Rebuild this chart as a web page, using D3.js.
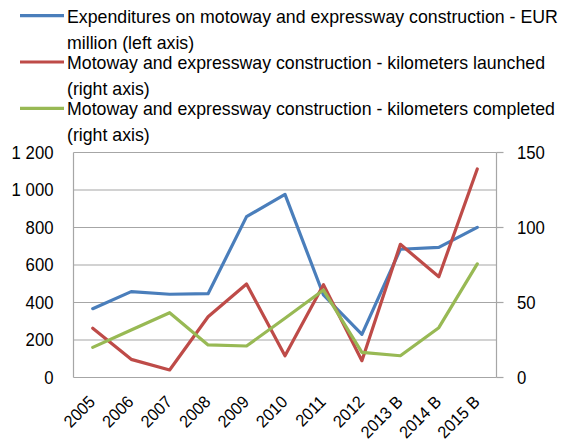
<!DOCTYPE html>
<html>
<head>
<script src="https://cdn.jsdelivr.net/npm/d3@7"></script>
<style>
  body { margin: 0; background: #fff; }
  svg text { font-family: "Liberation Sans", Arial, sans-serif; fill: #000; }
</style>
</head>
<body>
<svg id="chart"></svg>
<script>
// data
const years = ["2005", "2006", "2007", "2008", "2009", "2010", "2011", "2012", "2013 B", "2014 B", "2015 B"];
const expenditures = [367, 458, 444, 447, 858, 977, 440, 230, 684, 694, 801];   // EUR million, left axis
const kmLaunched = [32.8, 12.1, 5, 40.5, 62.3, 14.5, 61.9, 11.2, 88.8, 67.2, 139];  // right axis
const kmCompleted = [20.1, 31.7, 43.2, 21.7, 21, 39.5, 58.3, 16.8, 14.5, 33.2, 75.7]; // right axis
const leftTicks = [0, 200, 400, 600, 800, 1000, 1200];
const rightTicks = [0, 50, 100, 150];
const legendLines = [
    ["Expenditures on motoway and expressway construction - EUR", "million (left axis)"],
    ["Motoway and expressway construction - kilometers launched", "(right axis)"],
    ["Motoway and expressway construction - kilometers completed", "(right axis)"]
];
const colors = ["#4a7ebb", "#be4b48", "#98b954"];

const width = 567, height = 441;
const plot = { left: 73.5, right: 496.5, top: 152.5, bottom: 377.5 };

const svg = d3.select("#chart").attr("width", width).attr("height", height);

const x = d3.scaleBand().domain(years).range([plot.left, plot.right]);
const yL = d3.scaleLinear().domain([0, 1200]).range([plot.bottom, plot.top]);
const yR = d3.scaleLinear().domain([0, 150]).range([plot.bottom, plot.top]);

// gridlines
svg.append("g")
    .selectAll("line")
    .data(leftTicks)
    .enter()
    .append("line")
    .attr("x1", plot.left).attr("x2", plot.right)
    .attr("y1", d => yL(d)).attr("y2", d => yL(d))
    .attr("stroke", "#a6a6a6").attr("stroke-width", 1.2);

// axis lines
svg.append("line")
    .attr("x1", plot.left).attr("x2", plot.left)
    .attr("y1", plot.top).attr("y2", plot.bottom)
    .attr("stroke", "#a6a6a6").attr("stroke-width", 1.2);
svg.append("line")
    .attr("x1", plot.right).attr("x2", plot.right)
    .attr("y1", plot.top).attr("y2", plot.bottom)
    .attr("stroke", "#a6a6a6").attr("stroke-width", 1.2);

// right axis tick marks
svg.append("g")
    .selectAll("line")
    .data(rightTicks)
    .enter()
    .append("line")
    .attr("x1", plot.right).attr("x2", plot.right + 7)
    .attr("y1", d => yR(d)).attr("y2", d => yR(d))
    .attr("stroke", "#a6a6a6").attr("stroke-width", 1.2);

// left tick labels
svg.append("g")
    .selectAll("text")
    .data(leftTicks)
    .enter()
    .append("text")
    .attr("transform", d => `translate(53.5,${yL(d)}) scale(0.93,1)`)
    .attr("dy", "0.35em")
    .attr("text-anchor", "end")
    .style("font-size", "18px")
    .text(d => d3.format(",")(d).replace(",", " "));

// right tick labels
svg.append("g")
    .selectAll("text")
    .data(rightTicks)
    .enter()
    .append("text")
    .attr("transform", d => `translate(517,${yR(d)}) scale(0.93,1)`)
    .attr("dy", "0.35em")
    .style("font-size", "18px")
    .text(d => d);

// x labels, rotated and a bit condensed
svg.append("g")
    .selectAll("text")
    .data(years)
    .enter()
    .append("text")
    .attr("transform", d => `translate(${x(d) + x.bandwidth() / 2 + 3.5},${403}) rotate(-45) scale(0.95,1)`)
    .attr("text-anchor", "end")
    .style("font-size", "17px")
    .text(d => d);

// lines
const series = [
    { values: expenditures, y: yL },
    { values: kmLaunched, y: yR },
    { values: kmCompleted, y: yR }
];
series.forEach((s, i) => {
    let line = d3.line()
        .x((d, j) => x(years[j]) + x.bandwidth() / 2)
        .y(d => s.y(d));
    svg.append("path")
        .datum(s.values)
        .attr("d", line)
        .attr("fill", "none")
        .attr("stroke", colors[i])
        .attr("stroke-width", 3.2)
        .attr("stroke-linejoin", "round")
        .attr("stroke-linecap", "round");
});

// legend, text squeezed horizontally like the original
const legend = svg.append("g");
const legendText = legend.append("g");
legendLines.forEach((lines, i) => {
    let y0 = 15.7 + i * 46.3;
    legend.append("line")
        .attr("x1", 20).attr("x2", 64)
        .attr("y1", y0).attr("y2", y0)
        .attr("stroke", colors[i]).attr("stroke-width", 3.2);
    lines.forEach((t, k) => {
        legendText.append("text")
            .attr("x", 0)
            .attr("y", y0 + 7 + k * 26)
            .style("font-size", "19px")
            .text(t);
    });
});
let natural = legendText.select("text").node().getComputedTextLength();
let sx = 491 / natural;
legendText.attr("transform", `translate(67,0) scale(${sx},1)`);
</script>
</body>
</html>
